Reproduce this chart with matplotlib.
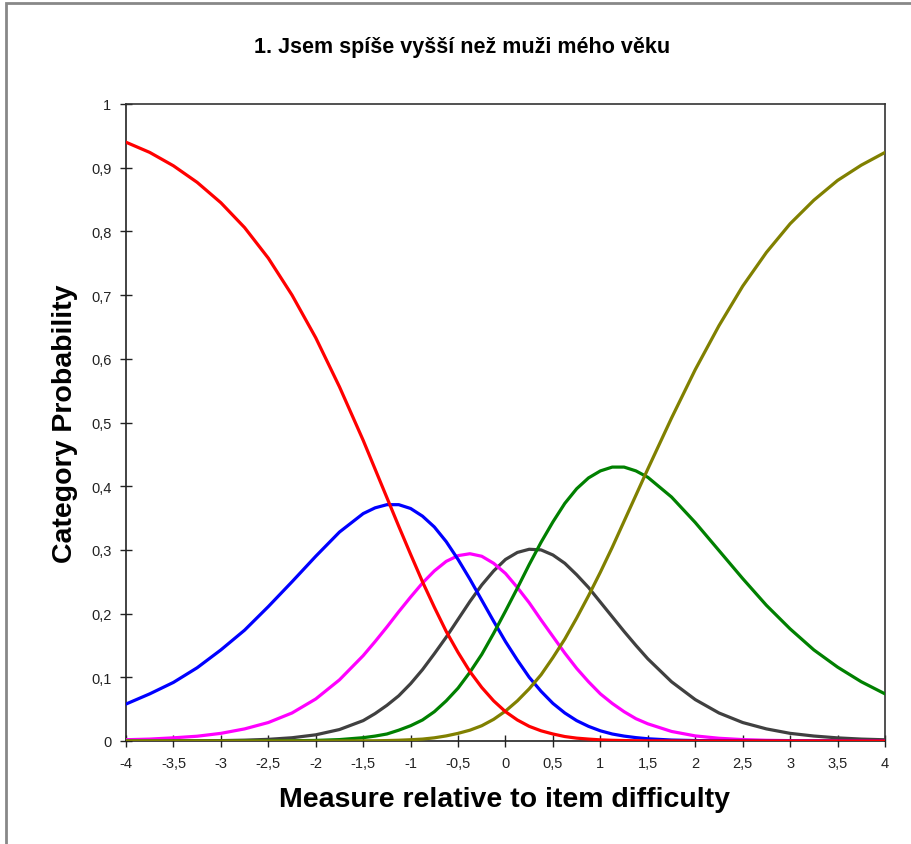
import matplotlib
matplotlib.use("Agg")
import matplotlib.pyplot as plt
from matplotlib.patches import Rectangle
from matplotlib.ticker import FixedLocator, FuncFormatter

plt.rcParams['font.family'] = ['Liberation Sans', 'DejaVu Sans']

# Measure relative to item difficulty (logits)
measure = [-4, -3.75, -3.5, -3.25, -3, -2.75, -2.5, -2.25, -2, -1.75, -1.5,
           -1.375, -1.25, -1.125, -1, -0.875, -0.75, -0.625, -0.5, -0.375,
           -0.25, -0.125, 0, 0.125, 0.25, 0.375, 0.5, 0.625, 0.75, 0.875,
           1, 1.125, 1.25, 1.375, 1.5, 1.75, 2, 2.25, 2.5, 2.75, 3, 3.25,
           3.5, 3.75, 4]

# Category probability curves, one list per response category
cat_red = [0.940, 0.924, 0.903, 0.877, 0.845, 0.806, 0.758, 0.700, 0.633, 0.556, 0.472,
           0.427, 0.382, 0.337, 0.293, 0.250, 0.210, 0.172, 0.139, 0.109,
           0.084, 0.063, 0.046, 0.033, 0.023, 0.016, 0.011, 0.007, 0.0045, 0.003,
           0.0018, 0.0011, 0.0007, 0.0004, 0.0002, 0.0001, 0, 0, 0, 0, 0, 0,
           0, 0, 0]
cat_blue = [0.058, 0.074, 0.092, 0.115, 0.143, 0.174, 0.211, 0.250, 0.290, 0.328, 0.357,
            0.366, 0.371, 0.371, 0.365, 0.353, 0.336, 0.313, 0.285, 0.254,
            0.221, 0.188, 0.156, 0.127, 0.100, 0.078, 0.059, 0.044, 0.032, 0.023,
            0.016, 0.011, 0.0077, 0.0053, 0.0035, 0.0015, 0.0007, 0.0003, 0.0001, 0, 0, 0,
            0, 0, 0]
cat_magenta = [0.002, 0.003, 0.005, 0.0075, 0.012, 0.019, 0.029, 0.044, 0.066, 0.096, 0.134,
               0.156, 0.179, 0.203, 0.226, 0.248, 0.267, 0.282, 0.291, 0.294,
               0.290, 0.279, 0.263, 0.241, 0.217, 0.190, 0.164, 0.138, 0.114, 0.093,
               0.074, 0.059, 0.046, 0.035, 0.027, 0.015, 0.008, 0.0043, 0.0022, 0.0011, 0.0006, 0.0003,
               0.0001, 0.0001, 0]
cat_gray = [0, 0.0001, 0.0002, 0.0003, 0.0006, 0.0013, 0.0026, 0.0051, 0.0097, 0.018, 0.032,
            0.043, 0.056, 0.071, 0.090, 0.112, 0.137, 0.163, 0.191, 0.219,
            0.245, 0.267, 0.285, 0.296, 0.301, 0.300, 0.292, 0.279, 0.261, 0.241,
            0.218, 0.195, 0.172, 0.150, 0.129, 0.093, 0.065, 0.044, 0.029, 0.019, 0.012, 0.0078,
            0.0049, 0.003, 0.0019]
cat_green = [0, 0, 0, 0, 0, 0.0001, 0.0002, 0.0004, 0.0009, 0.0022, 0.0052,
             0.0077, 0.011, 0.017, 0.024, 0.033, 0.046, 0.063, 0.083, 0.108,
             0.136, 0.169, 0.204, 0.240, 0.277, 0.312, 0.344, 0.373, 0.396, 0.413,
             0.424, 0.430, 0.430, 0.424, 0.414, 0.383, 0.343, 0.299, 0.255, 0.213, 0.176, 0.143,
             0.116, 0.093, 0.074]
cat_olive = [0, 0, 0, 0, 0, 0, 0, 0, 0, 0.0001, 0.0003,
             0.0004, 0.0007, 0.0012, 0.002, 0.003, 0.005, 0.008, 0.012, 0.017,
             0.024, 0.034, 0.047, 0.063, 0.082, 0.104, 0.131, 0.160, 0.193, 0.228,
             0.265, 0.304, 0.345, 0.386, 0.427, 0.507, 0.583, 0.652, 0.714, 0.767, 0.812, 0.849,
             0.880, 0.904, 0.924]

y_ticks = [0, 0.1, 0.2, 0.3, 0.4, 0.5, 0.6, 0.7, 0.8, 0.9, 1]
x_ticks = [-4, -3.5, -3, -2.5, -2, -1.5, -1, -0.5, 0, 0.5, 1, 1.5, 2, 2.5, 3, 3.5, 4]

W, H = 912, 845
fig = plt.figure(figsize=(W / 100, H / 100), dpi=100)
ax = fig.add_axes([126 / W, 1 - 742 / H, (885 - 126) / W, (742 - 105) / H])

lw = 2.3
ax.plot(measure, cat_gray, color='#404040', lw=lw, zorder=3)
ax.plot(measure, cat_magenta, color='#FF00FF', lw=lw, zorder=4)
ax.plot(measure, cat_blue, color='#0000FF', lw=lw, zorder=5)
ax.plot(measure, cat_green, color='#008000', lw=lw, zorder=6)
ax.plot(measure, cat_olive, color='#808000', lw=lw, zorder=7)
ax.plot(measure, cat_red, color='#FF0000', lw=lw, zorder=8)

ax.set_xlim(-4, 4)
ax.set_ylim(0, 1)


def comma(v, pos=None):
    s = f"{v:g}"
    return s.replace('.', ',')


ax.xaxis.set_major_locator(FixedLocator(x_ticks))
ax.yaxis.set_major_locator(FixedLocator(y_ticks))
ax.xaxis.set_major_formatter(FuncFormatter(comma))
ax.yaxis.set_major_formatter(FuncFormatter(comma))
ax.tick_params(direction='inout', length=9, width=1, color='#222222',
               labelsize=10.5, labelcolor='#222222', pad=6)

for side in ['left', 'bottom']:
    ax.spines[side].set_color('#222222')
    ax.spines[side].set_linewidth(1.2)
for side in ['top', 'right']:
    ax.spines[side].set_color('#333333')
    ax.spines[side].set_linewidth(1.2)

fig.text(462 / W, 1 - 48 / H, "1. Jsem spíše vyšší než muži mého věku",
         ha='center', va='center', fontsize=15.5, fontweight='bold')
fig.text(505 / W, 1 - 800 / H, "Measure relative to item difficulty",
         ha='center', va='center', fontsize=20.5, fontweight='bold')
fig.text(65 / W, 1 - 424 / H, "Category Probability", rotation=90,
         ha='center', va='center', fontsize=20.5, fontweight='bold')

# outer chart frame
fig.add_artist(Rectangle((6 / W, -0.05), 1.1, 1.05 - 4 / H, transform=fig.transFigure,
                         fill=False, edgecolor='#888888', lw=2))

fig.savefig("out.png", dpi=100, facecolor='white')
